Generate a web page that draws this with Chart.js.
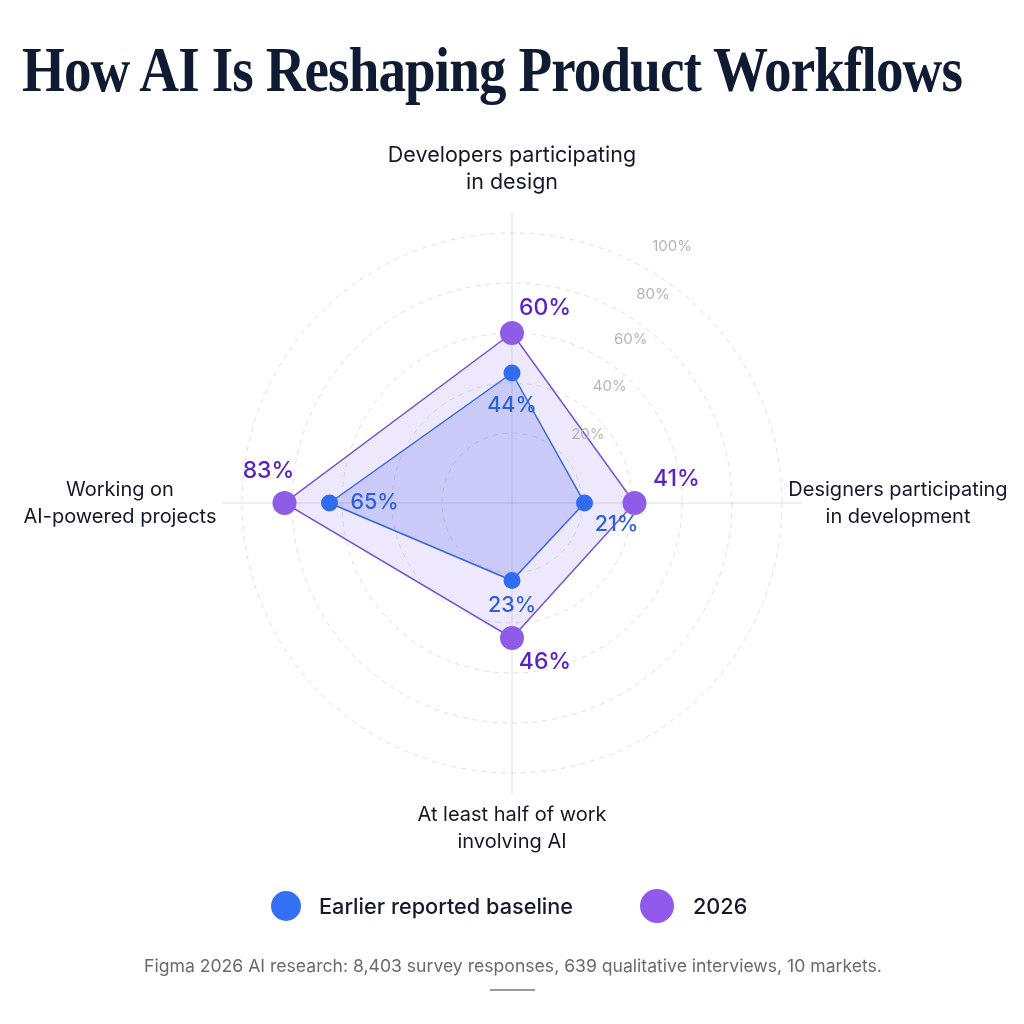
<!DOCTYPE html>
<html>
<head>
<meta charset="utf-8">
<script src="https://cdn.jsdelivr.net/npm/chart.js@4.4.1/dist/chart.umd.min.js"></script>
<style>
  html, body { margin: 0; padding: 0; background: #ffffff; }
  #wrap { position: relative; width: 1024px; height: 1024px; overflow: hidden; background: #ffffff; }
  #c { position: absolute; left: 0; top: 0; }
  #title { position: absolute; left: 22px; top: 39px; font-family: "Liberation Serif", "DejaVu Serif", serif; font-weight: 700;
           font-size: 63px; line-height: 63px; color: #0f1a33; white-space: nowrap; transform-origin: 0 0; letter-spacing: -1px; }
  .leg { position: absolute; font-family: Inter, "Noto Sans", sans-serif; font-size: 21.7px; font-weight: 500; color: #161a2b; line-height: 30px; white-space: nowrap; }
  .dot { position: absolute; border-radius: 50%; }
  #foot { position: absolute; left: 0; width: 1026px; top: 954px; text-align: center; font-family: Inter, "Noto Sans", sans-serif;
          font-size: 17.6px; line-height: 24px; color: #6a6a6a; white-space: nowrap; }
  #rule { position: absolute; left: 490px; top: 989px; width: 45px; height: 1.5px; background: #9a9a9a; }
</style>
</head>
<body>
<div id="wrap">
  <canvas id="c" width="1024" height="1024"></canvas>
  <div id="title">How AI Is Reshaping Product Workflows</div>
  <div class="dot" style="left:271px;top:891px;width:30px;height:30px;background:#3370f4;"></div>
  <div class="leg" style="left:319px;top:891px;">Earlier reported baseline</div>
  <div class="dot" style="left:640px;top:889px;width:34px;height:34px;background:#9159ee;"></div>
  <div class="leg" style="left:693px;top:891px;">2026</div>
  <div id="foot">Figma 2026 AI research: 8,403 survey responses, 639 qualitative interviews, 10 markets.</div>
  <div id="rule"></div>
</div>
<script>
// ---- data ----
const categories = [
  ["Developers participating", "in design"],
  ["Designers participating", "in development"],
  ["At least half of work", "involving AI"],
  ["Working on", "AI-powered projects"]
];
const seriesNames = ["Earlier reported baseline", "2026"];
const baselineValues = [44, 21, 23, 65];
const values2026 = [60, 41, 46, 83];
const tickValues = [20, 40, 60, 80, 100];

// ---- styles ----
const labelDistance = [334, 386, 325, 392];
const labelFontSize = [21.5, 20, 20, 20];
const tickAngles = [42, 50, 54, 56, 58];
const baselineLabelOffsets = [[0, 33], [32, 22], [0, 25], [45, 0]];
const label2026Offsets = [[33, -25], [42, -24], [33, 24], [-16, -32]];

// fit title width
(function () {
  const t = document.getElementById('title');
  const w = t.getBoundingClientRect().width;
  t.style.transform = 'scaleX(' + (940 / w) + ')';
})();

const overlay = {
  id: 'overlay',
  afterDatasetsDraw(chart) {
    const ctx = chart.ctx;
    const s = chart.scales.r;
    ctx.save();
    // tick labels
    ctx.font = '15px Inter, "Noto Sans", sans-serif';
    ctx.fillStyle = '#b4b4b4';
    ctx.textAlign = 'center';
    ctx.textBaseline = 'middle';
    tickValues.forEach((v, k) => {
      const r = s.getDistanceFromCenterForValue(v) + 32;
      const a = tickAngles[k] * Math.PI / 180;
      ctx.fillText(v + '%', s.xCenter + r * Math.cos(a), s.yCenter - r * Math.sin(a));
    });
    // category labels
    ctx.fillStyle = '#15182a';
    categories.forEach((lines, i) => {
      ctx.font = labelFontSize[i] + 'px Inter, "Noto Sans", sans-serif';
      const p = s.getPointPosition(i, labelDistance[i]);
      const lh = 27;
      lines.forEach((ln, j) => {
        ctx.fillText(ln, p.x, p.y + (j - (lines.length - 1) / 2) * lh);
      });
    });
    // value labels
    const m0 = chart.getDatasetMeta(0);
    const m1 = chart.getDatasetMeta(1);
    ctx.font = '500 21.5px Inter, "Noto Sans", sans-serif';
    ctx.fillStyle = '#2b62d9';
    baselineValues.forEach((v, i) => {
      const el = m0.data[i];
      ctx.fillText(v + '%', el.x + baselineLabelOffsets[i][0], el.y + baselineLabelOffsets[i][1]);
    });
    ctx.font = '500 23px Inter, "Noto Sans", sans-serif';
    ctx.fillStyle = '#5a22c4';
    values2026.forEach((v, i) => {
      const el = m1.data[i];
      ctx.fillText(v + '%', el.x + label2026Offsets[i][0], el.y + label2026Offsets[i][1]);
    });
    ctx.restore();
  }
};

new Chart(document.getElementById('c'), {
  type: 'radar',
  data: {
    labels: categories,
    datasets: [
      {
        label: seriesNames[0],
        data: baselineValues,
        fill: 'start',
        backgroundColor: 'rgba(90,110,230,0.25)',
        borderColor: '#3a68dc',
        borderWidth: 1.5,
        pointRadius: 8.5,
        pointHoverRadius: 8.5,
        pointBackgroundColor: '#2f6cf0',
        pointBorderWidth: 0
      },
      {
        label: seriesNames[1],
        data: values2026,
        fill: 'start',
        backgroundColor: 'rgba(140,100,235,0.15)',
        borderColor: '#7653d4',
        borderWidth: 1.5,
        pointRadius: 12,
        pointHoverRadius: 12,
        pointBackgroundColor: '#8f5ce8',
        pointBorderWidth: 0
      }
    ]
  },
  options: {
    responsive: false,
    animation: false,
    layout: { padding: { left: 222, right: 222, top: 213, bottom: 231 } },
    plugins: { legend: { display: false }, tooltip: { enabled: false }, title: { display: false } },
    elements: { line: { tension: 0 } },
    scales: {
      r: {
        min: -8,
        max: 108,
        ticks: { display: false, stepSize: 20 },
        pointLabels: { display: false },
        grid: {
          circular: true,
          lineWidth: 1,
          color: (c) => (c.tick && c.tick.value > 0 && c.tick.value <= 100) ? 'rgba(0,0,0,0.13)' : 'transparent'
        },
        border: { dash: [5, 5] },
        angleLines: { display: true, color: 'rgba(0,0,0,0.13)', lineWidth: 1 }
      }
    }
  },
  plugins: [overlay]
});
</script>
</body>
</html>
